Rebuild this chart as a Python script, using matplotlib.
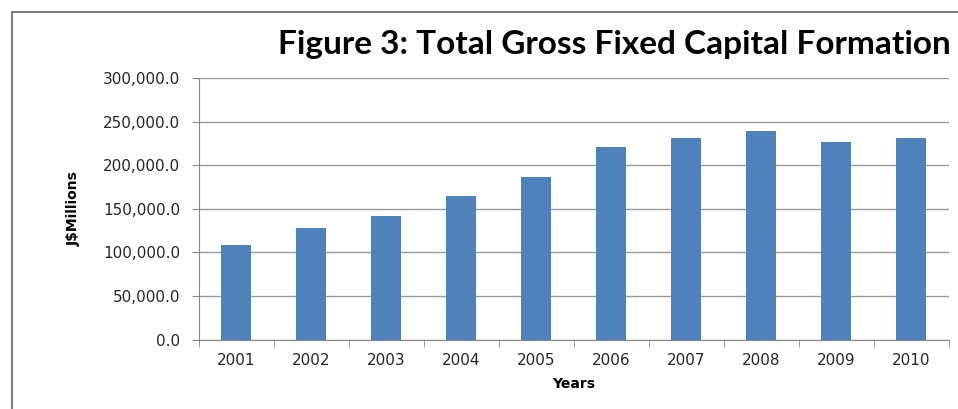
import numpy as np
import matplotlib.pyplot as plt
from matplotlib.lines import Line2D
from matplotlib.ticker import FuncFormatter

# data
years = ["2001", "2002", "2003", "2004", "2005", "2006", "2007", "2008", "2009", "2010"]
gfcf = [108600, 128000, 141900, 164100, 186100, 220300, 231300, 238700, 227100, 231300]
title = "Figure 3: Total Gross Fixed Capital Formation"

plt.rcParams['font.family'] = ['DejaVu Sans']

fig = plt.figure(figsize=(9.58, 4.09), dpi=100)
ax = fig.add_axes([198.5 / 958, 69.5 / 409, 750 / 958, 261.5 / 409])

x = np.arange(len(years))
ax.bar(x, gfcf, width=0.4, color="#4F81BD", zorder=3)

ax.set_xlim(-0.5, len(years) - 0.5)
ax.set_ylim(0, 300000)
ax.set_yticks(np.arange(0, 300001, 50000))
ax.yaxis.set_major_formatter(FuncFormatter(lambda v, p: f"{v:,.1f}"))
ax.set_xticks(x)
ax.set_xticklabels(years)
ax.set_xticks(np.arange(-0.5, len(years), 1), minor=True)

ax.grid(axis="y", color="#999999", linewidth=1, zorder=0)
for s in ["top", "right"]:
    ax.spines[s].set_visible(False)
ax.spines["left"].set_color("#868686")
ax.spines["bottom"].set_color("#868686")

ax.tick_params(axis="y", length=5, color="#868686", labelsize=11, pad=8, colors="#262626")
ax.tick_params(axis="x", which="major", length=0, labelsize=11, pad=10, colors="#262626")
ax.tick_params(axis="x", which="minor", length=5, color="#868686")

ax.set_ylabel("J$Millions", fontsize=10, fontweight="bold", labelpad=16)
ax.set_xlabel("Years", fontsize=10, fontweight="bold", labelpad=6)

t = fig.text(278 / 958, (409 - 54) / 409, title, family="Lato",
             fontsize=24, fontweight="bold", ha="left", va="baseline")
# shrink title to the width it takes in the original
w = t.get_window_extent(fig.canvas.get_renderer()).width
t.set_fontsize(24 * 673 / w)

# outer chart frame (cut off at right and bottom)
fig.add_artist(Line2D([11.5 / 958, 11.5 / 958], [0, (409 - 12) / 409],
                      transform=fig.transFigure, color="#7F7F7F", linewidth=1.5))
fig.add_artist(Line2D([11.5 / 958, 1], [(409 - 12) / 409, (409 - 12) / 409],
                      transform=fig.transFigure, color="#7F7F7F", linewidth=1.5))

fig.savefig("out.png", dpi=100)
